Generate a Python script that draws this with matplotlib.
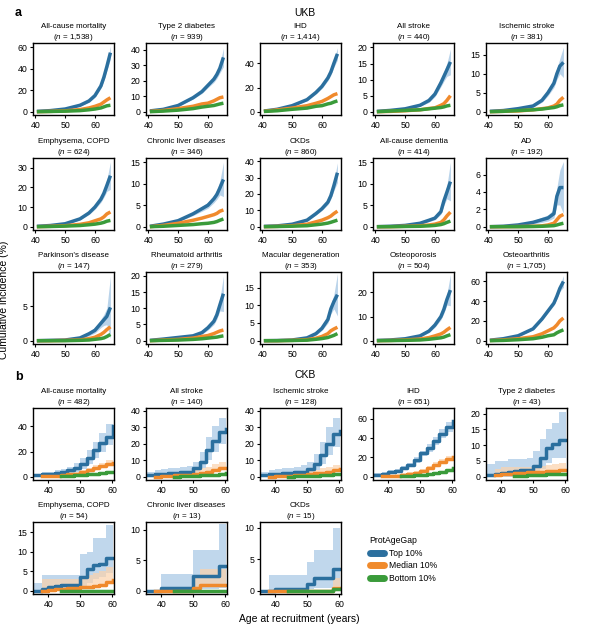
import numpy as np
import matplotlib
matplotlib.use('Agg')
import matplotlib.pyplot as plt
from matplotlib.lines import Line2D

plt.rcParams['font.family'] = ['Liberation Sans', 'DejaVu Sans']
plt.rcParams['mathtext.fontset'] = 'custom'
plt.rcParams['mathtext.it'] = 'Liberation Sans:italic'
plt.rcParams['mathtext.rm'] = 'Liberation Sans'

nan = np.nan

# ---------------- UKB (panel a) ----------------
ukb_names = ['All-cause mortality', 'Type 2 diabetes', 'IHD', 'All stroke', 'Ischemic stroke',
             'Emphysema, COPD', 'Chronic liver diseases', 'CKDs', 'All-cause dementia', 'AD',
             "Parkinson's disease", 'Rheumatoid arthritis', 'Macular degeneration', 'Osteoporosis',
             'Osteoarthritis']
ukb_n = ['1,538', '939', '1,414', '440', '381', '624', '346', '860', '414', '192',
         '147', '279', '353', '504', '1,705']
ukb_age = [40.5, 45, 50, 55, 58, 60, 62, 63, 64, 65.2]

ukb_top = [
    [0.3, 1, 2.5, 6, 10, 15, 24, 32, 42, 55],
    [0.5, 1.5, 4, 9, 13, 17, 21, 24, 28, 35],
    [0.5, 2, 5, 10, 16, 21, 28, 33, 40, 48],
    [0.1, 0.4, 0.9, 2, 3.5, 5.5, 9, 11, 13, 15.5],
    [0.1, 0.3, 0.8, 1.5, 3, 5, 7.5, 10, 12, 13],
    [0.2, 0.6, 1.5, 4, 7, 10, 14, 17, 21, 26],
    [0.1, 0.6, 1.4, 3, 4.2, 5, 6.5, 7.5, 9, 11],
    [0.2, 0.5, 1.5, 4, 8, 11, 15, 19, 25, 33],
    [0, 0.1, 0.3, 0.8, 1.5, 2, 3.5, 6, 8, 10.5],
    [0, 0.05, 0.2, 0.5, 0.8, 1, 1.5, 3.5, 4.5, 4.5],
    [0, 0.05, 0.1, 0.4, 1, 1.5, 2.5, 3, 3.5, 4.8],
    [0.1, 0.5, 1, 1.5, 2.5, 4, 6, 8, 11, 14.5],
    [0, 0.05, 0.2, 0.8, 2, 3.5, 6, 9, 11, 13],
    [0.1, 0.3, 0.8, 2, 4, 6.5, 10, 13, 17, 21],
    [0.5, 2, 5, 12, 22, 30, 38, 45, 53, 60],
]
ukb_top_ci = [
    [0.1, 0.2, 0.4, 0.8, 1.2, 1.6, 2.2, 2.8, 3.5, 6],
    [0.1, 0.3, 0.5, 0.8, 1.2, 1.5, 2, 2.5, 3, 6],
    [0.1, 0.3, 0.5, 0.9, 1.3, 1.7, 2.2, 2.6, 3.2, 5],
    [0.05, 0.1, 0.2, 0.3, 0.6, 0.8, 1.2, 1.5, 2, 4],
    [0.05, 0.1, 0.2, 0.3, 0.5, 0.8, 1.1, 1.5, 2, 4],
    [0.05, 0.1, 0.3, 0.5, 0.8, 1.1, 1.6, 2, 3, 7],
    [0.05, 0.1, 0.2, 0.4, 0.6, 0.7, 0.9, 1.1, 1.6, 4],
    [0.05, 0.1, 0.3, 0.5, 0.8, 1.1, 1.5, 2, 3, 6],
    [0, 0.05, 0.1, 0.2, 0.3, 0.4, 0.6, 1, 1.5, 4.5],
    [0, 0.05, 0.1, 0.2, 0.3, 0.35, 0.5, 1, 2, 3],
    [0, 0.05, 0.05, 0.2, 0.3, 0.4, 0.6, 0.8, 1.2, 4.5],
    [0.05, 0.1, 0.2, 0.3, 0.5, 0.7, 1, 1.3, 1.8, 5.5],
    [0, 0.05, 0.1, 0.2, 0.4, 0.6, 1, 1.4, 2, 6],
    [0.05, 0.1, 0.2, 0.4, 0.6, 0.9, 1.3, 1.6, 2.2, 6.5],
    [0.1, 0.3, 0.5, 0.9, 1.3, 1.7, 2.2, 2.6, 3, 6],
]
ukb_med = [
    [0, 0.3, 0.8, 2, 3.5, 5, 7, 9, 11, 13],
    [0.2, 0.8, 2, 3.5, 5, 5.5, 7, 8, 9, 9.5],
    [0.3, 1.5, 3, 5, 7, 8.5, 11, 12.5, 14, 15],
    [0, 0.1, 0.3, 0.6, 1, 1.2, 2, 2.5, 3.5, 5],
    [0, 0.1, 0.2, 0.5, 0.8, 1, 1.5, 2, 3, 3.8],
    [0, 0.2, 0.5, 1.2, 2, 3, 4, 5, 6.5, 7.5],
    [0, 0.3, 0.8, 1.5, 2, 2.4, 2.8, 3.1, 3.6, 3.9],
    [0, 0.2, 0.6, 1.5, 3, 4, 5.5, 6.5, 8, 9.5],
    [0, 0, 0.1, 0.2, 0.4, 0.6, 1, 1.6, 2.5, 3.4],
    [0, 0, 0.02, 0.05, 0.1, 0.2, 0.4, 0.8, 1.2, 1.4],
    [0, 0, 0.05, 0.1, 0.3, 0.5, 0.9, 1.2, 1.6, 2],
    [0, 0.2, 0.4, 0.8, 1.3, 1.6, 2.2, 2.6, 3, 3.3],
    [0, 0, 0.1, 0.3, 0.7, 1.2, 2, 2.8, 3.3, 3.8],
    [0, 0.1, 0.3, 0.7, 1.3, 2, 2.8, 3.5, 4.5, 5.5],
    [0.2, 0.8, 2, 4, 7, 10, 13, 16, 20, 23],
]
ukb_bot = [
    [0, 0.2, 0.5, 1, 1.8, 2.5, 3.5, 4.5, 5.5, 6],
    [0, 0.4, 1, 2, 3, 3.5, 4, 4.5, 5, 5.5],
    [0.2, 0.8, 2, 3, 4.5, 5, 6.5, 7, 8, 9],
    [0, 0.2, 0.4, 0.6, 0.9, 1.1, 1.3, 1.5, 1.8, 2],
    [0, 0.1, 0.3, 0.5, 0.7, 0.9, 1.1, 1.3, 1.6, 1.8],
    [0, 0.1, 0.3, 0.6, 1, 1.3, 1.8, 2.2, 2.8, 3.2],
    [0, 0.1, 0.3, 0.5, 0.7, 0.8, 1, 1.2, 1.5, 1.8],
    [0, 0.1, 0.3, 0.6, 1.2, 1.6, 2.2, 2.7, 3.3, 4],
    [0, 0, 0.05, 0.1, 0.2, 0.3, 0.5, 0.7, 1, 1.3],
    [0, 0, 0, 0.02, 0.05, 0.08, 0.12, 0.2, 0.3, 0.4],
    [0, 0, 0, 0.05, 0.1, 0.2, 0.3, 0.4, 0.6, 0.9],
    [0, 0.1, 0.2, 0.4, 0.6, 0.8, 1, 1.1, 1.3, 1.5],
    [0, 0, 0.05, 0.15, 0.4, 0.6, 0.9, 1.2, 1.5, 2],
    [0, 0.05, 0.15, 0.3, 0.6, 0.9, 1.2, 1.5, 2, 2.5],
    [0, 0.3, 1, 2, 3.5, 5, 6, 8, 9.5, 11],
]
ukb_yticks = [[0, 20, 40, 60], [0, 10, 20, 30, 40], [0, 20, 40], [0, 5, 10, 15, 20], [0, 5, 10, 15],
              [0, 10, 20, 30], [0, 5, 10, 15], [0, 10, 20, 30, 40], [0, 5, 10, 15], [0, 2, 4, 6],
              [0, 5], [0, 5, 10, 15, 20], [0, 5, 10, 15], [0, 10, 20], [0, 20, 40, 60]]
ukb_ytop = [64, 44.3, 57, 21.4, 18.1, 35, 16, 42, 16, 7.9, 9.9, 21.2, 19.4, 28.5, 69.6]

# ---------------- CKB (panel b) ----------------
ckb_names = ['All-cause mortality', 'All stroke', 'Ischemic stroke', 'IHD', 'Type 2 diabetes',
             'Emphysema, COPD', 'Chronic liver diseases', 'CKDs']
ckb_n = ['482', '140', '128', '651', '43', '54', '13', '15']
ckb_age = [35.5, 38, 40, 42, 44, 46, 48, 50, 52, 54, 56, 58, 60.3]

ckb_top = [
    [1.5, 2, 2.5, 3, 4, 5, 7, 10, 15, 21, 27, 32, 40],
    [1, 1.5, 1.8, 2, 2.3, 2.6, 3, 5, 9, 16, 22, 27, 29],
    [1, 1.5, 1.8, 2, 2.3, 2.6, 3, 4.5, 8, 13, 20, 26, 28],
    [2, 3, 4.5, 6, 8.5, 12, 17, 24, 30, 37, 44, 51, 57],
    [0.5, 1, 1.3, 1.5, 1.8, 2, 2, 3.5, 6, 9, 10.5, 11.5, 11.5],
    [0, 0.5, 1, 1.3, 1.4, 1.5, 1.5, 3.5, 5.5, 6.5, 7, 8.5, 8.5],
    [0, 0, 0.5, 0.5, 0.5, 0.5, 0.5, 2.5, 2.5, 2.5, 2.5, 4, 4],
    [0, 0, 0.3, 0.3, 0.3, 0.3, 0.3, 1, 2, 2, 2, 3.5, 3.5],
]
ckb_top_hi = [
    [2.5, 3.5, 4, 5, 6, 8, 11, 15, 21, 28, 35, 42, 51],
    [3, 4, 4.5, 5, 5.5, 6, 6.5, 9, 15, 24, 31, 36, 40],
    [3, 4, 4.5, 5, 5.5, 6, 7, 9, 14, 21, 30, 36, 40],
    [4, 5, 6.5, 8, 11, 14.5, 20, 27, 34, 41, 49, 56, 63],
    [4, 5, 5, 5.5, 5.5, 5.5, 6, 8, 12, 15, 17, 20.5, 20.5],
    [2, 4, 4, 4, 4, 4, 4, 9.5, 10, 13.5, 13.5, 17, 17],
    [0, 0, 2.8, 2.8, 2.8, 2.8, 2.8, 6.7, 6.7, 6.7, 6.7, 11, 11],
    [0, 2.5, 2.5, 2.5, 2.5, 2.5, 2.5, 4.5, 6.5, 6.5, 6.5, 10, 10],
]
ckb_top_lo = [
    [0.5, 1, 1.5, 2, 2.5, 3, 4, 6, 10, 15, 20, 25, 32],
    [0, 0, 0.2, 0.3, 0.5, 0.8, 1, 2, 5, 10, 15, 20, 22],
    [0, 0, 0.2, 0.3, 0.5, 0.8, 1, 1.5, 4, 8, 13, 18, 20],
    [0.5, 1.5, 3, 4, 6.5, 9.5, 14, 21, 26, 33, 40, 46, 51],
    [0, 0, 0, 0, 0.2, 0.3, 0.4, 1, 2.5, 4.5, 6, 6, 6],
    [0, 0, 0, 0.2, 0.3, 0.4, 0.4, 1, 2, 3, 3.5, 4.5, 4.5],
    [0, 0, 0, 0, 0, 0, 0, 0.3, 0.3, 0.3, 0.3, 0.5, 0.5],
    [0, 0, 0, 0, 0, 0, 0, 0.2, 0.4, 0.4, 0.4, 0.8, 0.8],
]
ckb_med = [
    [nan, 0.3, 0.5, 0.8, 1.2, 1.8, 2.5, 3.5, 5, 7, 8.5, 10, 11],
    [nan, 0, 0.3, 0.5, 0.8, 1, 1.3, 1.8, 2.5, 3, 4, 5, 5.5],
    [nan, 0, 0.3, 0.5, 0.7, 1, 1.2, 1.5, 2, 2.5, 3, 4, 4.5],
    [nan, 0.5, 0.8, 1.2, 2, 3, 4, 6, 9, 12, 15, 18, 20],
    [nan, 0.5, 0.8, 1, 1.2, 1.3, 1.4, 1.5, 1.6, 1.7, 1.8, 2, 2],
    [nan, 0, 0.3, 0.5, 0.5, 0.6, 0.7, 0.9, 1, 1.2, 1.5, 2.2, 2.8],
    [nan, 0, 0, 0, 0, 0, 0, 0.5, 1, 1, 1, 1, 1],
    [nan, 0, 0, 0, 0, 0, 0, 0, 0, 0, 0, 0.5, 0.5],
]
ckb_med_hi = [
    [nan, 1, 1.5, 2, 2.5, 3, 4, 5.5, 7, 9.5, 11, 13, 15],
    [nan, 1, 1.5, 2, 2.5, 3, 3.5, 4, 5, 6, 7.5, 9, 10],
    [nan, 1, 1.5, 2, 2.2, 2.5, 3, 3.5, 4, 5, 6, 7, 8],
    [nan, 1.5, 2, 2.5, 3.5, 4.5, 6, 8, 11.5, 15, 18, 21, 25],
    [nan, 2.5, 3, 3, 3, 3, 3, 3.2, 3.5, 3.7, 4, 4.5, 4.5],
    [nan, 3, 3, 3, 3, 3, 3, 3.5, 4, 4.5, 5, 6, 6],
    [nan, 0, 0, 0, 0, 0, 0, 2.5, 3.5, 3.5, 3.5, 3.5, 3.5],
    [nan, 0, 0, 0, 0, 0, 0, 0, 0, 0, 0, 2, 2],
]
ckb_bot = [
    [nan, nan, nan, nan, 0.3, 0.6, 1, 1.5, 2, 2.5, 3, 3.5, 4],
    [nan, nan, nan, nan, 0, 0.2, 0.4, 0.6, 0.8, 1, 1.2, 1.5, 2],
    [nan, nan, nan, nan, 0.1, 0.2, 0.3, 0.5, 0.7, 0.9, 1.1, 1.4, 1.8],
    [nan, nan, nan, nan, 0.5, 1, 1.5, 2, 3, 4, 5, 6.5, 8.5],
    [nan, nan, nan, nan, 0.2, 0.3, 0.4, 0.5, 0.6, 0.7, 0.8, 1, 1],
    [nan, nan, nan, nan, 0, 0, 0, 0, 0, 0, 0, 0, 0],
    [nan, nan, nan, nan, 0, 0, 0, 0, 0, 0, 0, 0, 0],
    [nan, nan, nan, nan, 0, 0, 0, 0, 0, 0, 0, 0.3, 0.3],
]
ckb_yticks = [[0, 20, 40], [0, 10, 20, 30, 40], [0, 10, 20, 30, 40], [0, 20, 40, 60],
              [0, 5, 10, 15, 20], [0, 5, 10, 15], [0, 5, 10], [0, 5, 10]]
ckb_ytop = [54.7, 41.8, 41.8, 70.9, 21.8, 17.7, 11.3, 10.9]

groups = ['Top 10%', 'Median 10%', 'Bottom 10%']

c_top, c_med, c_bot = '#2b6f9e', '#f08a2c', '#3a9b3a'
b_top, b_med = '#b9d3ea', '#fbd2ab'

W, H = 608, 627
fig = plt.figure(figsize=(W / 100, H / 100), dpi=100)

col_left = [33, 146, 260, 373, 486]
ax_w, ax_h = 81, 72


def make_ax(left, top):
    return fig.add_axes([left / W, 1 - (top + ax_h) / H, ax_w / W, ax_h / H])


def style(ax, name, n, yticks, ytop, xlim):
    ax.set_title(name + '\n($\\it{n}$ = ' + n + ')', fontsize=5.8, pad=2.5, linespacing=1.3)
    ax.set_xlim(*xlim)
    ax.set_ylim(-ytop * 0.048, ytop)
    ax.set_yticks(yticks)
    ax.set_xticks([40, 50, 60])
    ax.tick_params(labelsize=6.3, length=2.5, width=0.8, pad=1.5)
    for s in ax.spines.values():
        s.set_linewidth(1.0)


# panel a
rows_a = [43, 158, 272]
for i in range(15):
    ax = make_ax(col_left[i % 5], rows_a[i // 5])
    top = np.array(ukb_top[i])
    ci = np.array(ukb_top_ci[i])
    ax.fill_between(ukb_age, top - ci, top + ci, color=b_top, lw=0)
    ax.plot(ukb_age, top, color=c_top, lw=2.5, solid_capstyle='butt')
    ax.plot(ukb_age, ukb_med[i], color=c_med, lw=2.5, solid_capstyle='butt')
    ax.plot(ukb_age, ukb_bot[i], color=c_bot, lw=2.5, solid_capstyle='butt')
    style(ax, ukb_names[i], ukb_n[i], ukb_yticks[i], ukb_ytop[i], (39.2, 66.4))

# panel b
rows_b = [408, 522]
for i in range(8):
    ax = make_ax(col_left[i % 5], rows_b[i // 5])
    ax.fill_between(ckb_age, ckb_top_lo[i], ckb_top_hi[i], step='post', color=b_top, lw=0, alpha=0.9)
    med = np.array(ckb_med[i])
    ax.fill_between(ckb_age, med, ckb_med_hi[i], step='post', color=b_med, lw=0, alpha=0.7)
    ax.step(ckb_age, ckb_top[i], where='post', color=c_top, lw=2.5)
    ax.step(ckb_age, ckb_med[i], where='post', color=c_med, lw=2.5)
    ax.step(ckb_age, ckb_bot[i], where='post', color=c_bot, lw=2.5)
    style(ax, ckb_names[i], ckb_n[i], ckb_yticks[i], ckb_ytop[i], (35.2, 60.6))

fig.text(15 / W, 1 - 13 / H, 'a', fontsize=9, fontweight='bold', va='center')
fig.text(15 / W, 1 - 377 / H, 'b', fontsize=9, fontweight='bold', va='center')
fig.text(305 / W, 1 - 13 / H, 'UKB', fontsize=7.5, ha='center', va='center')
fig.text(305 / W, 1 - 375 / H, 'CKB', fontsize=7.5, ha='center', va='center')
fig.text(299 / W, 1 - 619 / H, 'Age at recruitment (years)', fontsize=7.5, ha='center', va='center')
fig.text(4 / W, 1 - 300 / H, 'Cumulative incidence (%)', fontsize=7.5, rotation=90,
         ha='center', va='center')

handles = [Line2D([0], [0], color=c, lw=5, solid_capstyle='round') for c in (c_top, c_med, c_bot)]
leg = fig.legend(handles, groups, title='ProtAgeGap', loc='upper left',
                 bbox_to_anchor=(362 / W, 1 - 528 / H), frameon=False, fontsize=6.2,
                 title_fontsize=6.2, handlelength=1.6, handletextpad=0.6, labelspacing=0.45,
                 alignment='left')

fig.savefig('out.png', dpi=100)
